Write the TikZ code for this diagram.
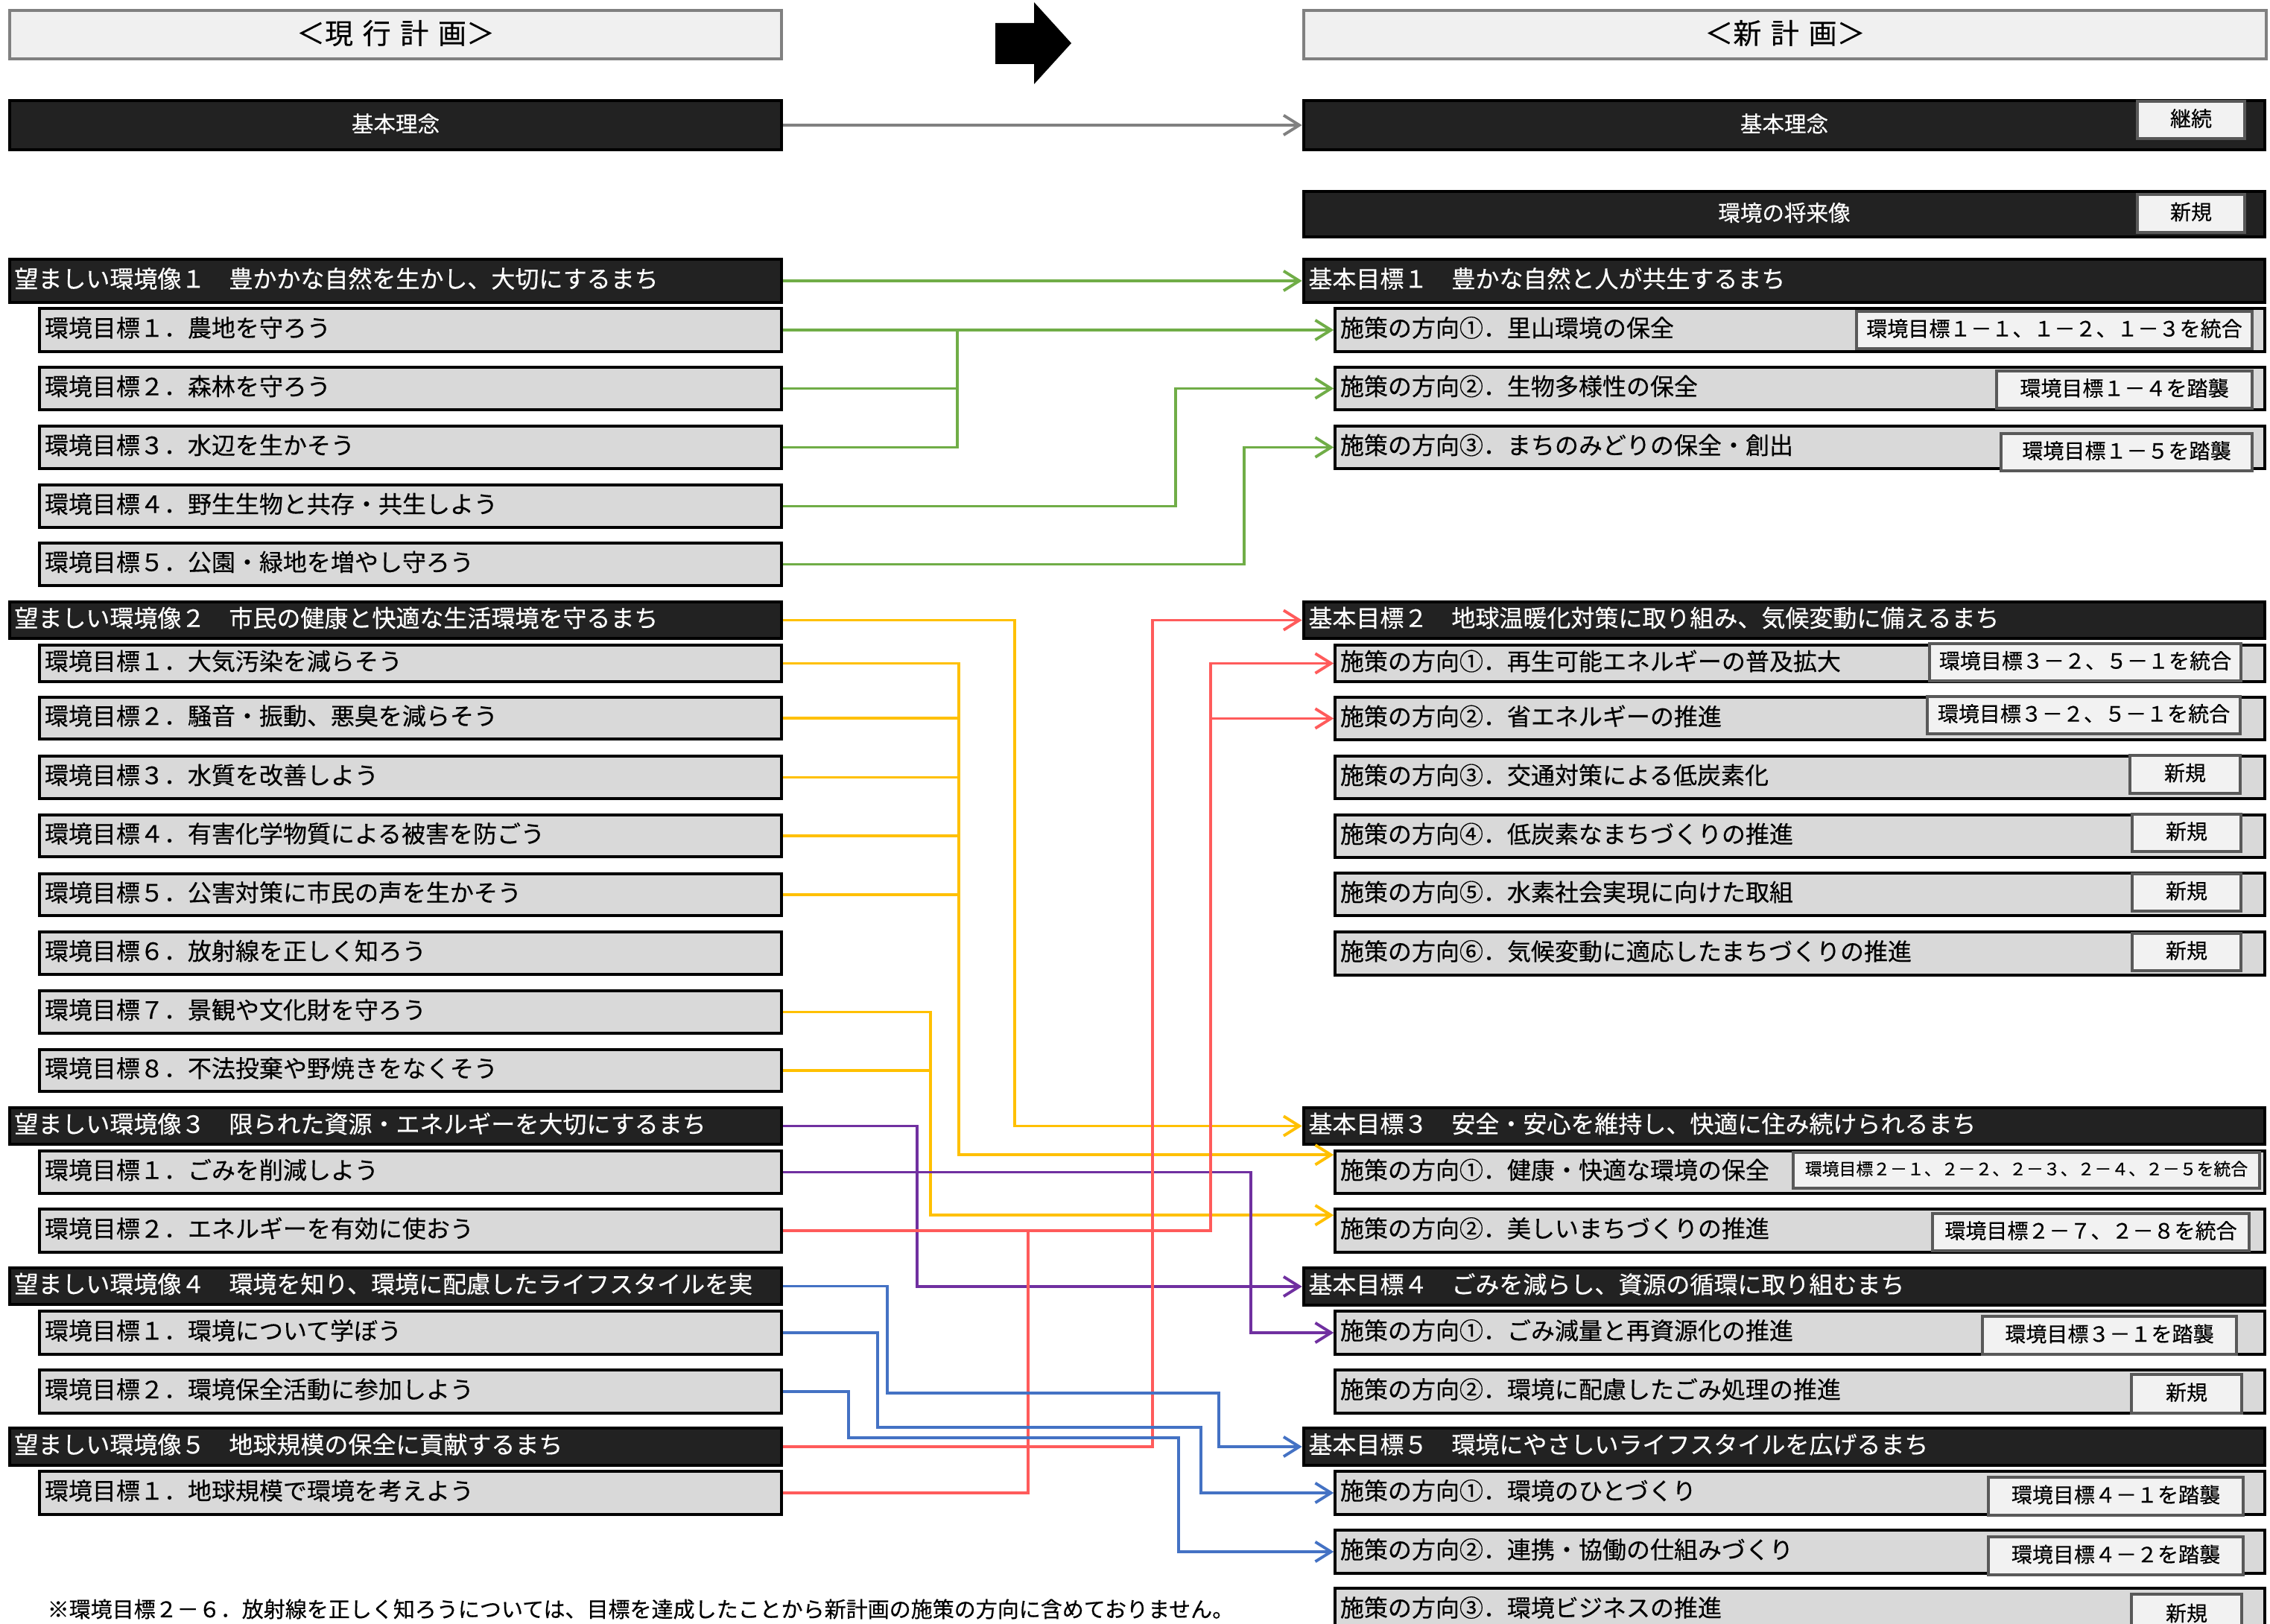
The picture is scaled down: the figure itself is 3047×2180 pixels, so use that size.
\documentclass[tikz,border=0pt]{standalone}
\usepackage{fontspec}
\newfontfamily\jp[FakeBold=0.4]{Noto Sans CJK JP}
\usetikzlibrary{arrows.meta,fit,calc}
\newcommand\myfs[1]{\fontsize{#1}{#1}\selectfont}
\definecolor{cgreen}{HTML}{70AD47}
\definecolor{cyel}{HTML}{FFC000}
\definecolor{cred}{HTML}{FF5B5B}
\definecolor{cpur}{HTML}{7030A0}
\definecolor{cblue}{HTML}{4472C4}
\definecolor{cgray}{HTML}{808080}
\definecolor{darkfill}{HTML}{222222}
\definecolor{subfill}{HTML}{D9D9D9}
\definecolor{tagfill}{HTML}{F2F2F2}
\definecolor{tagedge}{HTML}{595959}
\definecolor{titlefill}{HTML}{F0F0F0}
\tikzset{
  titlebox/.style={draw=cgray, fill=titlefill, line width=1.4pt, inner sep=0pt},
  titleboxtxt/.style={inner sep=0pt, font=\jp\myfs{10.8}},
  darkbox/.style={draw=black, fill=darkfill, line width=1.3pt, inner sep=0pt},
  darkboxtxt/.style={text=white, font=\jp\myfs{9.1}, inner sep=0pt, anchor=west},
  darkctr/.style={draw=black, fill=darkfill, line width=1.3pt, inner sep=0pt},
  darkctrtxt/.style={text=white, font=\jp\myfs{8.4}, inner sep=0pt},
  subbox/.style={draw=black, fill=subfill, line width=1pt, inner sep=0pt},
  subboxtxt/.style={text=black, font=\jp\myfs{9.1}, inner sep=0pt, anchor=west},
  tagbox/.style={draw=tagedge, fill=tagfill, line width=1.2pt, inner sep=0pt},
  tagboxtxt/.style={inner sep=0pt, font=\jp\myfs{7.97}},
  conn/.style={line width=1.1pt},
  arr/.style={-{Straight Barb[length=6pt,width=7.5pt]}},
  gl/.style={conn, draw=cgreen},
  yl/.style={conn, draw=cyel},
  rl/.style={conn, draw=cred},
  pl/.style={conn, draw=cpur},
  bl/.style={conn, draw=cblue},
}
% left-aligned text box: style name x1 y1 x2 y2 text
\newcommand\mkbox[7]{%
  \node[#1, fit={(#3,#4)(#5,#6)}] (#2) {};
  \node[#1txt] (#2t) at ([shift={(8,-3)}]#2.west) {#7};}
% centred text box: style name x1 y1 x2 y2 text
\newcommand\mkcbox[7]{%
  \node[#1, fit={(#3,#4)(#5,#6)}] (#2) {};
  \node[#1txt] (#2t) at ([shift={(0,-2)}]#2.center) {#7};}
\newcommand\mktag[6]{\mkcbox{tagbox}{#1}{#2}{#3}{#4}{#5}{#6}}
\begin{document}
\begin{tikzpicture}[x=0.01cm,y=-0.01cm]
\useasboundingbox (0,0) rectangle (3047,2180);
\clip (0,0) rectangle (3047,2180);
\fill[white] (0,0) rectangle (3047,2180);

% titles
\mkcbox{titlebox}{T1}{13}{14}{1049}{79}{＜現\kern3.6pt 行\kern3.6pt 計\kern3.6pt 画＞}
\mkcbox{titlebox}{T2}{1750}{14}{3042}{79}{＜新\kern3.6pt 計\kern3.6pt 画＞}
\fill[black] (1336,31) -- (1388,31) -- (1388,3) -- (1438,58) -- (1388,113) -- (1388,86) -- (1336,86) -- cycle;

% basic philosophy
\mkcbox{darkctr}{LB}{13}{135}{1049}{201}{基本理念}
\mkcbox{darkctr}{RB}{1750}{135}{3040}{201}{基本理念}
\mktag{RBtag}{2869}{136}{3013}{186}{継続}
\mkcbox{darkctr}{RF}{1750}{257}{3040}{318}{環境の将来像}
\mktag{RFtag}{2869}{261}{3013}{312}{新規}

% left column
\mkbox{darkbox}{L1}{13}{348}{1049}{406}{望ましい環境像１　豊かかな自然を生かし、大切にするまち}
\mkbox{subbox}{L11}{53}{414}{1049}{472}{環境目標１．農地を守ろう}
\mkbox{subbox}{L12}{53}{493}{1049}{550}{環境目標２．森林を守ろう}
\mkbox{subbox}{L13}{53}{572}{1049}{629}{環境目標３．水辺を生かそう}
\mkbox{subbox}{L14}{53}{651}{1049}{708}{環境目標４．野生生物と共存・共生しよう}
\mkbox{subbox}{L15}{53}{729}{1049}{786}{環境目標５．公園・緑地を増やし守ろう}
\mkbox{darkbox}{L2}{13}{808}{1049}{857}{望ましい環境像２　市民の健康と快適な生活環境を守るまち}
\mkbox{subbox}{L21}{53}{866}{1049}{915}{環境目標１．大気汚染を減らそう}
\mkbox{subbox}{L22}{53}{936}{1049}{992}{環境目標２．騒音・振動、悪臭を減らそう}
\mkbox{subbox}{L23}{53}{1015}{1049}{1072}{環境目標３．水質を改善しよう}
\mkbox{subbox}{L24}{53}{1094}{1049}{1150}{環境目標４．有害化学物質による被害を防ごう}
\mkbox{subbox}{L25}{53}{1173}{1049}{1229}{環境目標５．公害対策に市民の声を生かそう}
\mkbox{subbox}{L26}{53}{1251}{1049}{1308}{環境目標６．放射線を正しく知ろう}
\mkbox{subbox}{L27}{53}{1330}{1049}{1387}{環境目標７．景観や文化財を守ろう}
\mkbox{subbox}{L28}{53}{1409}{1049}{1465}{環境目標８．不法投棄や野焼きをなくそう}
\mkbox{darkbox}{L3}{13}{1487}{1049}{1536}{望ましい環境像３　限られた資源・エネルギーを大切にするまち}
\mkbox{subbox}{L31}{53}{1545}{1049}{1602}{環境目標１．ごみを削減しよう}
\mkbox{subbox}{L32}{53}{1623}{1049}{1681}{環境目標２．エネルギーを有効に使おう}
\mkbox{darkbox}{L4}{13}{1702}{1049}{1751}{望ましい環境像４　環境を知り、環境に配慮したライフスタイルを実}
\mkbox{subbox}{L41}{53}{1760}{1049}{1818}{環境目標１．環境について学ぼう}
\mkbox{subbox}{L42}{53}{1839}{1049}{1897}{環境目標２．環境保全活動に参加しよう}
\mkbox{darkbox}{L5}{13}{1917}{1049}{1967}{望ましい環境像５　地球規模の保全に貢献するまち}
\mkbox{subbox}{L51}{53}{1975}{1049}{2033}{環境目標１．地球規模で環境を考えよう}

% right column
\mkbox{darkbox}{K1}{1750}{348}{3040}{406}{基本目標１　豊かな自然と人が共生するまち}
\mkbox{subbox}{S11}{1792}{414}{3040}{472}{施策の方向①．里山環境の保全}
\mktag{G11}{2492}{418}{3023}{468}{環境目標１－１、１－２、１－３を統合}
\mkbox{subbox}{S12}{1792}{493}{3040}{550}{施策の方向②．生物多様性の保全}
\mktag{G12}{2680}{498}{3023}{548}{環境目標１－４を踏襲}
\mkbox{subbox}{S13}{1792}{572}{3040}{629}{施策の方向③．まちのみどりの保全・創出}
\mktag{G13}{2686}{582}{3023}{632}{環境目標１－５を踏襲}

\mkbox{darkbox}{K2}{1750}{808}{3040}{857}{基本目標２　地球温暖化対策に取り組み、気候変動に備えるまち}
\mkbox{subbox}{S21}{1792}{866}{3040}{915}{施策の方向①．再生可能エネルギーの普及拡大}
\mktag{G21}{2590}{864}{3008}{914}{環境目標３－２、５－１を統合}
\mkbox{subbox}{S22}{1792}{936}{3040}{993}{施策の方向②．省エネルギーの推進}
\mktag{G22}{2587}{935}{3007}{985}{環境目標３－２、５－１を統合}
\mkbox{subbox}{S23}{1792}{1015}{3040}{1072}{施策の方向③．交通対策による低炭素化}
\mktag{G23}{2859}{1014}{3007}{1065}{新規}
\mkbox{subbox}{S24}{1792}{1094}{3040}{1151}{施策の方向④．低炭素なまちづくりの推進}
\mktag{G24}{2862}{1093}{3008}{1143}{新規}
\mkbox{subbox}{S25}{1792}{1172}{3040}{1229}{施策の方向⑤．水素社会実現に向けた取組}
\mktag{G25}{2862}{1173}{3008}{1223}{新規}
\mkbox{subbox}{S26}{1792}{1251}{3040}{1309}{施策の方向⑥．気候変動に適応したまちづくりの推進}
\mktag{G26}{2862}{1253}{3008}{1303}{新規}

\mkbox{darkbox}{K3}{1750}{1487}{3040}{1536}{基本目標３　安全・安心を維持し、快適に住み続けられるまち}
\mkbox{subbox}{S31}{1792}{1545}{3040}{1602}{施策の方向①．健康・快適な環境の保全}
\node[tagbox, fit={(2407,1547)(3033,1595)}] (G31) {};
\node[tagboxtxt, font=\jp\myfs{6.5}] (G31t) at ([shift={(0,-2)}]G31.center) {環境目標２－１、２－２、２－３、２－４、２－５を統合};
\mkbox{subbox}{S32}{1792}{1623}{3040}{1681}{施策の方向②．美しいまちづくりの推進}
\mktag{G32}{2594}{1629}{3019}{1679}{環境目標２－７、２－８を統合}

\mkbox{darkbox}{K4}{1750}{1702}{3040}{1752}{基本目標４　ごみを減らし、資源の循環に取り組むまち}
\mkbox{subbox}{S41}{1792}{1760}{3040}{1818}{施策の方向①．ごみ減量と再資源化の推進}
\mktag{G41}{2661}{1767}{3002}{1818}{環境目標３－１を踏襲}
\mkbox{subbox}{S42}{1792}{1839}{3040}{1897}{施策の方向②．環境に配慮したごみ処理の推進}
\mktag{G42}{2861}{1845}{3009}{1897}{新規}

\mkbox{darkbox}{K5}{1750}{1917}{3040}{1967}{基本目標５　環境にやさしいライフスタイルを広げるまち}
\mkbox{subbox}{S51}{1792}{1975}{3040}{2033}{施策の方向①．環境のひとづくり}
\mktag{G51}{2669}{1983}{3011}{2034}{環境目標４－１を踏襲}
\mkbox{subbox}{S52}{1792}{2054}{3040}{2112}{施策の方向②．連携・協働の仕組みづくり}
\mktag{G52}{2669}{2063}{3011}{2114}{環境目標４－２を踏襲}
\mkbox{subbox}{S53}{1792}{2132}{3040}{2190}{施策の方向③．環境ビジネスの推進}
\mktag{G53}{2861}{2140}{3009}{2195}{新規}

% footnote
\node[anchor=west, inner sep=0pt, font=\jp\myfs{8.25}] (note) at (63,2160) {※環境目標２－６．放射線を正しく知ろうについては、目標を達成したことから新計画の施策の方向に含めておりません。};

% junction x positions
\coordinate (g1) at (1285,0);
\coordinate (g2) at (1578,0);
\coordinate (g3) at (1670,0);
\coordinate (y1) at (1362,0);
\coordinate (y2) at (1287,0);
\coordinate (y3) at (1249,0);
\coordinate (p1) at (1231,0);
\coordinate (p2) at (1679,0);
\coordinate (r1) at (1547,0);
\coordinate (r2) at (1625,0);
\coordinate (r3) at (1380,0);
\coordinate (ba1) at (1191,1870);
\coordinate (ba2) at (1636,1870);
\coordinate (bb1) at (1178,1916);
\coordinate (bb2) at (1612,1916);
\coordinate (bc1) at (1139,1930);
\coordinate (bc2) at (1582,1930);
\coordinate (t31) at ([shift={(0,7)}]S31.north west);
\coordinate (t32) at ([shift={(0,10)}]S32.north west);

% gray
\draw[conn, draw=cgray, arr] (LB.east) -- (RB.west);

% green
\draw[gl, arr] (L1.east) -- (K1.west);
\draw[gl, arr] (L11.east) -- (S11.west);
\draw[gl] (L12.east) -- (L12.east -| g1);
\draw[gl] (L13.east) -- (L13.east -| g1) -- (L11.east -| g1);
\draw[gl, arr] (L14.east) -| (g2 |- S12.west) -- (S12.west);
\draw[gl, arr] (L15.east) -| (g3 |- S13.west) -- (S13.west);

% yellow
\draw[yl, arr] (L2.east) -| (y1 |- K3.west) -- (K3.west);
\draw[yl] (L22.east) -- (L22.east -| y2);
\draw[yl] (L23.east) -- (L23.east -| y2);
\draw[yl] (L24.east) -- (L24.east -| y2);
\draw[yl] (L25.east) -- (L25.east -| y2);
\draw[yl, arr] (L21.east) -| (y2 |- t31) -- (t31);
\draw[yl] (L28.east) -- (L28.east -| y3);
\draw[yl, arr] (L27.east) -| (y3 |- t32) -- (t32);

% purple
\draw[pl, arr] (L3.east) -| (p1 |- K4.west) -- (K4.west);
\draw[pl, arr] (L31.east) -| (p2 |- S41.west) -- (S41.west);

% red
\draw[rl, arr] (L5.east) -| (r1 |- K2.west) -- (K2.west);
\draw[rl, arr] (L32.east) -| (r2 |- S21.west) -- (S21.west);
\draw[rl, arr] (r2 |- S22.west) -- (S22.west);
\draw[rl] (L51.east) -| (r3 |- L32.east);

% blue
\draw[bl, arr] (L4.east) -| (ba1) -- (ba2) |- (K5.west);
\draw[bl, arr] (L41.east) -| (bb1) -- (bb2) |- (S51.west);
\draw[bl, arr] (L42.east) -| (bc1) -- (bc2) |- (S52.west);
\end{tikzpicture}
\end{document}
